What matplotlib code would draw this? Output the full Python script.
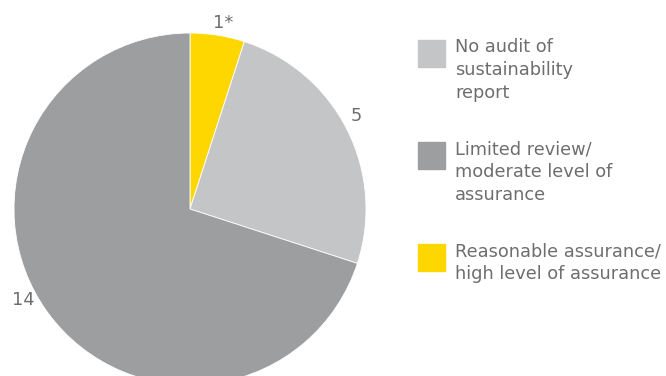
import matplotlib.pyplot as plt
from matplotlib.patches import Rectangle

# dane
kategorie = ['No audit of\nsustainability\nreport',
             'Limited review/\nmoderate level of\nassurance',
             'Reasonable assurance/\nhigh level of assurance']
wartosci = [5, 14, 1]
etykiety = ['5', '14', '1*']
kolory = ['#c4c5c7', '#9d9ea0', '#ffd700']

# kolejnosc na wykresie: zolty od gory, potem jasny, potem ciemny (zgodnie z ruchem wskazowek)
kolejnosc = [2, 0, 1]

szary_tekst = '#6e6e6e'
plt.rcParams['font.family'] = ['DejaVu Sans']

fig = plt.figure(figsize=(6.66, 3.76), dpi=100)
ax = fig.add_axes([0, 0, 1, 1])
ax.set_xlim(0, 666)
ax.set_ylim(0, 376)
ax.set_aspect('equal')
ax.axis('off')

wedges, texts = ax.pie([wartosci[i] for i in kolejnosc],
                       colors=[kolory[i] for i in kolejnosc],
                       labels=[etykiety[i] for i in kolejnosc],
                       startangle=90, counterclock=False,
                       center=(190, 167), radius=176, labeldistance=1.08,
                       textprops={'color': szary_tekst, 'fontsize': 12.8,
                                  'ha': 'center', 'va': 'center'},
                       wedgeprops={'linewidth': 0.6, 'edgecolor': 'white'})
# korekta polozenia etykiet jak w oryginale
texts[0].set_position((223, 353))
texts[1].set_position((356, 260))
texts[2].set_position((23, 76))
ax.set_xlim(0, 666)
ax.set_ylim(0, 376)

# legenda rysowana recznie
y_top = [40, 142, 244]
for i, y in enumerate(y_top):
    ax.add_patch(Rectangle((418, 376 - y - 27), 27, 27, color=kolory[i], clip_on=False))
    ax.text(455, 376 - y + 2, kategorie[i], va='top', ha='left',
            fontsize=12.8, color=szary_tekst, linespacing=1.37)

plt.savefig('out.png', dpi=100)
